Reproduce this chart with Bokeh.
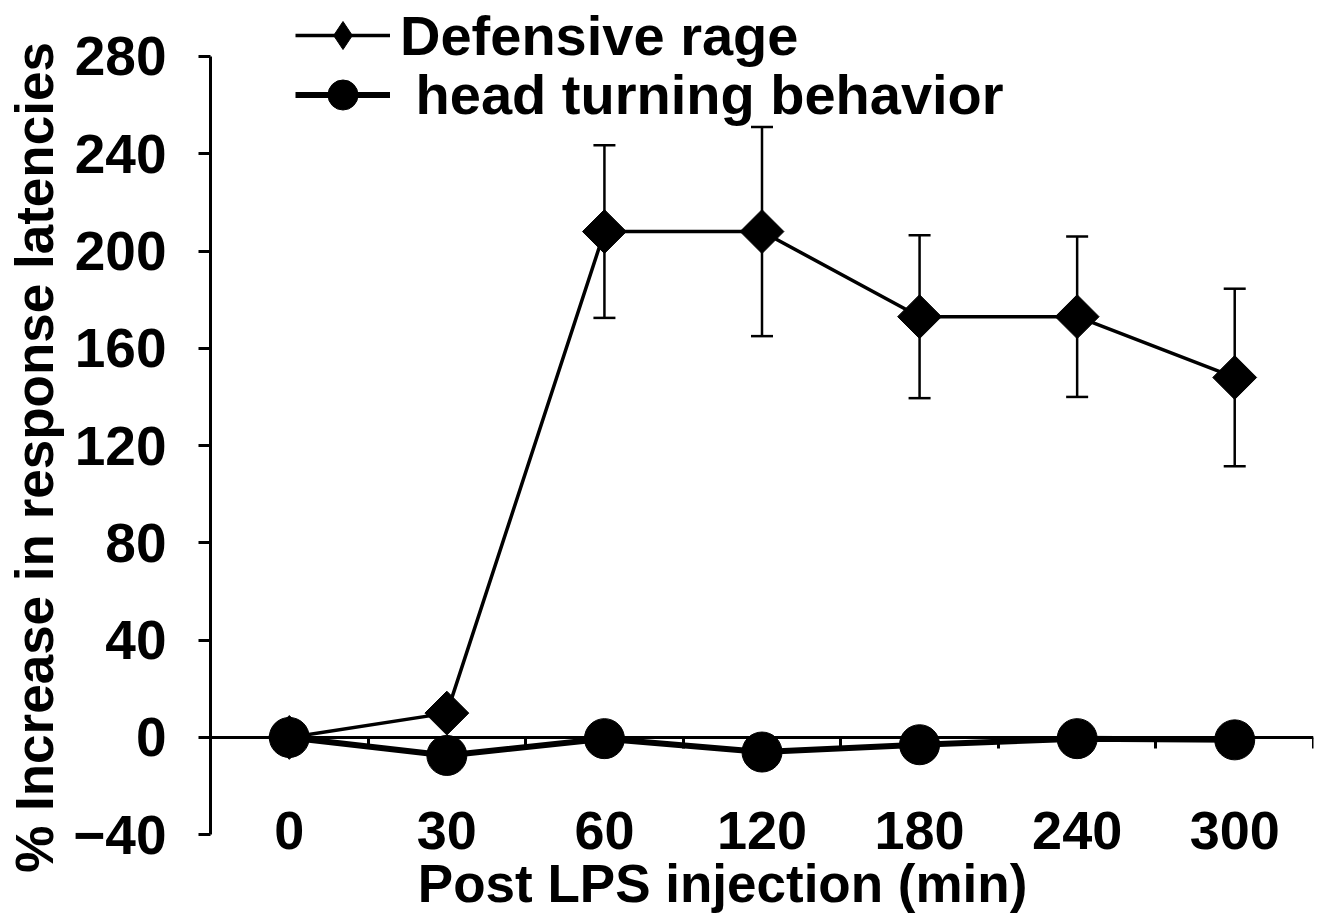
from bokeh.plotting import figure
from bokeh.models import (ColumnDataSource, Range1d, LinearAxis, FixedTicker,
                          Whisker, TeeHead, Legend, LegendItem, Label)
from bokeh.embed import file_html
from bokeh.resources import INLINE
import numpy as np

# ---- data ----
times = ["0", "30", "60", "120", "180", "240", "300"]
rage = [0, 10, 208, 208, 173, 173, 148]
rage_err = [0, 0, 35.5, 43, 33.5, 33, 36.5]
head = [0, -7.4, -0.5, -6, -3, -0.5, -1]
y_ticks = [-40, 0, 40, 80, 120, 160, 200, 240, 280]

FONT = "Liberation Sans"

# category slots (centre of each slot on a 0..N axis)
xpos = [i + 0.5 for i in range(len(times))]
bounds = [float(i) for i in range(len(times) + 1)]

src_r = ColumnDataSource(dict(
    x=xpos, y=rage,
    upper=list(np.array(rage) + np.array(rage_err)),
    lower=list(np.array(rage) - np.array(rage_err)),
))
src_h = ColumnDataSource(dict(x=xpos, y=head))

p = figure(width=1315, height=914, x_range=Range1d(0, len(times)),
           y_range=Range1d(-72.8, 303.0), output_backend="svg", toolbar_location=None,
           min_border_left=210, min_border_right=2, min_border_top=0, min_border_bottom=0,
           x_axis_location=None, y_axis_location=None)
p.outline_line_color = None
p.xgrid.visible = False
p.ygrid.visible = False
p.background_fill_color = "white"
p.border_fill_color = "white"

# y axis
yax = LinearAxis(ticker=FixedTicker(ticks=y_ticks, minor_ticks=[]), bounds=(-40, 280))
yax.axis_line_width = 3
yax.major_tick_line_width = 3
yax.major_tick_out = 12
yax.major_tick_in = 0
yax.major_label_standoff = 32
yax.major_label_text_font = FONT
yax.major_label_text_font_style = "bold"
yax.major_label_text_font_size = "55px"
yax.major_label_text_color = "black"
yax.axis_label = "% Increase in response latencies"
yax.axis_label_text_font = FONT
yax.axis_label_text_font_style = "bold"
yax.axis_label_text_font_size = "53px"
yax.axis_label_standoff = 6
yax.axis_label_text_color = "black"
p.add_layout(yax, "left")

# x axis at y = 0: labels at slot centres, ticks at slot boundaries
xax = LinearAxis(fixed_location=0, ticker=FixedTicker(ticks=xpos, minor_ticks=bounds))
xax.major_label_overrides = {x: t for x, t in zip(xpos, times)}
xax.axis_line_width = 3
xax.major_tick_line_color = None
xax.major_tick_out = 0
xax.minor_tick_line_width = 3
xax.minor_tick_out = 11
xax.minor_tick_in = 0
xax.major_label_standoff = 64
xax.major_label_text_font = FONT
xax.major_label_text_font_style = "bold"
xax.major_label_text_font_size = "54px"
xax.major_label_text_color = "black"
p.add_layout(xax, "below")

xlabel = Label(x=3.25, y=-60, text="Post LPS injection (min)", text_font=FONT,
               text_font_style="bold", text_font_size="53px", text_color="black",
               text_align="center", text_baseline="middle")
p.add_layout(xlabel)

# defensive rage
wh = Whisker(base="x", upper="upper", lower="lower", source=src_r, line_width=2.5,
             upper_head=TeeHead(size=22, line_width=2.5), lower_head=TeeHead(size=22, line_width=2.5))
p.add_layout(wh)
l1 = p.line("x", "y", source=src_r, line_width=3.5, color="black")
s1 = p.scatter("x", "y", source=src_r, marker="square", size=31, angle=np.pi / 4,
               fill_color="black", line_color="black")
# legend-only diamond glyph (its single point has no y value, so nothing is drawn in the plot)
s1_leg = p.scatter(x=xpos[:1], y=[np.nan], marker="diamond", fill_color="black", line_color="black")

# head turning
l2 = p.line("x", "y", source=src_h, line_width=6, color="black")
s2 = p.scatter("x", "y", source=src_h, marker="circle", size=40,
               fill_color="black", line_color="black")


def style(leg, gh):
    leg.label_text_font = FONT
    leg.label_text_font_style = "bold"
    leg.label_text_font_size = "56px"
    leg.label_text_color = "black"
    leg.glyph_width = 95
    leg.glyph_height = gh
    leg.label_standoff = 10
    leg.label_height = 40
    leg.padding = 0
    leg.margin = 0
    leg.spacing = 0
    leg.border_line_color = None
    leg.background_fill_alpha = 0


leg1 = Legend(items=[LegendItem(label="Defensive rage", renderers=[l1, s1_leg])],
              location=(85, 844))
style(leg1, 70)
leg2 = Legend(items=[LegendItem(label=" head turning behavior", renderers=[l2, s2])],
              location=(85, 782))
style(leg2, 75)
p.add_layout(leg1)
p.add_layout(leg2)

open("out.html", "w").write(file_html(p, INLINE))
